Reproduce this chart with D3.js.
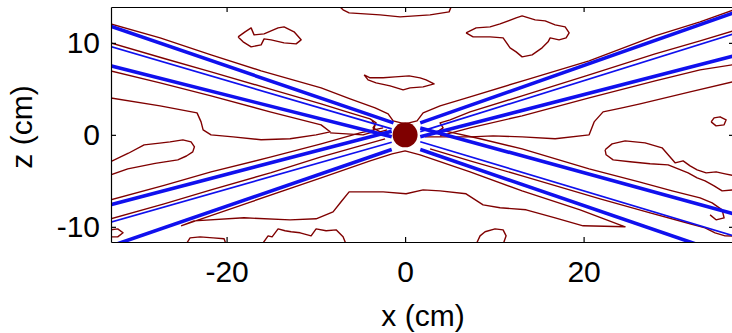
<!DOCTYPE html>
<html><head><meta charset="utf-8">
<script src="https://cdn.jsdelivr.net/npm/d3@7"></script>
<style>
body{margin:0;background:#fff}
svg{display:block}
text{font-family:"Liberation Sans",Arial,sans-serif}
</style>
</head><body>
<svg id="chart" width="732" height="333"></svg>
<script>
// ---- axis ticks ----
const xTicks = [-20, 0, 20];
const zTicks = [-10, 0, 10];
const xLabel = "x (cm)";
const zLabel = "z (cm)";

// ---- blue beam lines: [[x1,z1],[x2,z2]] in cm ----
const thickBeams = [
  [[-33, 11.8], [-1.3, 1.3]],
  [[-33, 7.5], [-1.5, -0.2]],
  [[-33, -7.6], [-1.5, 0.4]],
  [[-33, -12.1], [-1.5, -1.6]],
  [[1.7, 1.3], [36.9, 13.3]],
  [[1.7, -0.2], [36.9, 8.6]],
  [[1.7, 0.75], [36.9, -8.6]],
  [[1.7, -1.6], [36.9, -13.3]]
];
const thinBeams = [
  [[-33, 9.6], [-1.5, 0.65]],
  [[-33, -9.5], [-1.5, -0.8]],
  [[1.7, 0.35], [36.9, 11.0]],
  [[1.7, -0.75], [36.9, -11.0]]
];

// ---- source ----
const sourceX = 0, sourceZ = 0, sourceR = 1.4;

// ---- contour lines (cm) ----
const contourUpperV = [[-33,12.07],[-27.45,10.54],[-21.74,8.70],[-16.13,6.96],[-9.41,5.11],[-6.16,3.91],[-3.36,2.93],[-1.9,2.28],[-1.34,1.52],[0,1.2],[1.34,1.52],[2.02,2.39],[3.92,3.15],[7.28,4.13],[13.56,5.98],[20.62,8.04],[28.01,10.76],[33.05,12.28],[36.9,13.62]];
const contourUpperLeftThin = [[-33,10.0],[-27,8.3],[-21.74,6.85],[-15,4.95],[-9.41,3.37],[-6.16,2.39],[-3.92,1.74],[-3.25,1.3],[-3.59,0.76],[-2.8,0.33],[-2.02,0.54]];
const contourLeftWedge = [[-33,6.96],[-27.45,5.65],[-21.74,4.24],[-15.13,2.5],[-9.41,1.09],[-8.4,0.33],[-9.97,0],[-12.89,-0.43],[-16.13,-0.54],[-19.27,-0.22],[-21.74,0],[-22.63,0.54],[-22.86,1.41],[-23.31,2.39],[-27.45,3.15],[-33,4.02]];
const contourLeftAxis = [[-8.4,0.22],[-4.71,0],[-3.59,0.33],[-3.36,1.09],[-3.7,1.52]];
const contourLowerLeftInner = [[-33,-7.07],[-27,-5.5],[-21.74,-4.02],[-15,-2.4],[-9.41,-0.98],[-5.04,0.22],[-2.46,0.76]];
const islandLeft = [[-33,-2.93],[-31,-2.0],[-29.24,-1.09],[-27.5,-0.9],[-26.33,-0.76],[-24.9,-0.55],[-23.98,-0.76],[-23.6,-1.3],[-23.79,-1.85],[-24.5,-2.3],[-25.47,-2.72],[-28,-3.1],[-31.07,-3.7],[-33,-4.35]];
const contourLowerLeftThin = [[-33,-9.13],[-27,-7.5],[-21.74,-5.98],[-15,-4.1],[-9.41,-2.39],[-5.04,-1.2],[-2.24,-0.43]];
const contourLowerLoop = [[-25.1,-9.89],[-17.25,-7.28],[-9.41,-4.67],[-3.92,-2.83],[-1.46,-2.07],[0,-1.74],[1.68,-2.17],[7.28,-4.02],[13.11,-6.09],[19.61,-8.15],[24.65,-10.0],[19.94,-9.89],[16.81,-9.02],[13.56,-8.15],[10.64,-7.93],[8.74,-7.61],[6.83,-6.41],[3.92,-6.09],[2.02,-5.98],[0.11,-6.41],[-2.46,-6.2],[-6.27,-6.2],[-7.17,-7.28],[-8.07,-8.37],[-9.97,-9.13],[-12.89,-9.24],[-18.04,-9.02],[-23.64,-9.35],[-25.1,-9.89]];
const blobBottom1 = [[-33,-10.33],[-32.2,-10.22],[-31.6,-10.65],[-32.2,-11.09],[-33,-11.09]];
const blobBottom2 = [[-24.54,-11.9],[-24.09,-11.2],[-22.97,-11.09],[-21.51,-11.2],[-20.28,-11.3],[-20.06,-11.9]];
const blobBottom3 = [[-16.02,-11.9],[-15.35,-10.98],[-14.9,-11.09],[-14.23,-10.22],[-13.45,-10.43],[-12.77,-10.54],[-11.76,-10.65],[-10.53,-10.98],[-9.97,-10.22],[-8.85,-10.43],[-7.73,-10.33],[-6.95,-11.09],[-6.61,-11.9]];
const blobBottom4 = [[7.96,-11.9],[8.4,-10.98],[8.96,-10.54],[10.08,-10.22],[10.98,-10.33],[11.32,-10.98],[10.98,-11.9]];
const contourLowerRightInner = [[3.92,0.54],[8.4,-0.43],[13.11,-1.52],[20.62,-3.7],[26.22,-5.11],[29.92,-6.09],[33.05,-6.85],[34.4,-7.39],[35.52,-8.15],[35.74,-9.02],[34.84,-9.24],[34.17,-8.7]];
const contourLowerRightThin = [[2.8,-1.52],[7.28,-2.83],[13.11,-4.46],[21.85,-6.96],[27.45,-8.48],[31.93,-9.67],[33.61,-10.11],[34.73,-10.65],[35.85,-10.98],[36.9,-11.0]];
const islandRight = [[22.41,-1.63],[23.19,-0.98],[24.65,-0.65],[26.89,-0.87],[28.79,-1.41],[29.47,-2.17],[30.25,-3.04],[31.15,-2.83],[31.93,-3.37],[32.72,-3.8],[33.73,-4.13],[34.84,-4.02],[35.85,-4.24],[36.9,-4.46],[36.9,-5.98],[35.52,-6.09],[34.62,-5.54],[33.61,-5.0],[32.72,-4.67],[31.71,-4.13],[30.59,-3.7],[29.47,-3.26],[27.45,-3.15],[25.21,-2.93],[23.31,-2.72],[22.52,-2.17],[22.41,-1.63]];
const contourRightAxis = [[2.24,-0.22],[3.92,-0.22],[7.28,-0.22],[9.86,-0.11],[13.11,-0.22],[16.81,-0.43],[20.62,0],[21.18,1.41],[22.18,2.5],[24.31,2.93],[26.33,3.37],[31.93,4.67],[36.9,5.8]];
const contourUpperRightInner = [[3.92,-0.11],[7.28,0.76],[13.11,2.07],[20.62,4.02],[28.01,5.87],[33.05,7.07],[36.9,7.65]];
const contourUpperRightThin = [[3.59,0.33],[4.26,0.76],[3.92,1.3],[5.04,1.63],[7.28,2.5],[13.11,4.24],[20.62,6.52],[28.01,8.8],[33.05,10.22],[36.9,11.35]];
const islandTopLeft = [[-18.71,10.65],[-17.93,11.2],[-17.25,11.63],[-16.92,10.87],[-15.8,10.98],[-14.23,11.63],[-13.56,11.74],[-12.44,11.2],[-11.65,10.33],[-12.21,9.89],[-13.56,10.0],[-15.01,10.33],[-15.8,10.43],[-16.13,9.78],[-17.25,9.57],[-18.15,10.11],[-18.71,10.65]];
const islandTopEdge = [[-7.4,14.2],[-7.28,13.91],[-6.95,13.59],[-6.27,13.26],[-2.8,13.04],[-0.56,12.83],[2.8,13.04],[4.93,13.37],[5.15,13.91],[5.2,14.2]];
const islandTopRight = [[6.83,11.09],[7.96,11.63],[9.52,11.74],[10.64,12.07],[12.44,12.72],[13.11,12.93],[14.57,12.5],[15.69,12.39],[16.81,11.96],[17.93,11.74],[18.38,11.09],[18.04,10.54],[17.25,10.33],[16.25,10.54],[16.02,10.11],[15.35,9.46],[14.23,8.7],[13.11,8.48],[12.44,9.02],[11.76,9.46],[10.98,10.54],[9.52,10.65],[7.62,10.65],[6.83,11.09]];
const islandMid = [[-4.59,6.52],[-3.92,6.2],[-2.46,6.2],[-1.12,6.30],[0.45,6.41],[1.68,6.2],[2.35,5.98],[3.25,5.54],[2.02,5.22],[0.56,5.11],[-0.22,4.89],[-1.68,5.33],[-3.25,5.65],[-4.15,5.98],[-4.59,6.52]];
const islandSmallRight = [[34.29,1.41],[34.62,1.85],[35.29,1.96],[35.97,1.63],[35.74,1.09],[34.84,0.98],[34.29,1.41]];

const contours = [contourUpperV, contourUpperLeftThin, contourLeftWedge, contourLeftAxis,
  contourLowerLeftInner, islandLeft, contourLowerLeftThin, contourLowerLoop,
  blobBottom1, blobBottom2, blobBottom3, blobBottom4,
  contourLowerRightInner, contourLowerRightThin, islandRight, contourRightAxis,
  contourUpperRightInner, contourUpperRightThin, islandTopLeft, islandTopEdge,
  islandTopRight, islandMid, islandSmallRight];

// ---- layout ----
const W = 732, H = 333;
const plot = {left: 111, top: 7, right: 734, bottom: 242};
const x = d3.scaleLinear().domain([-32.95, 36.85]).range([plot.left, plot.right]);
const z = d3.scaleLinear().domain([-11.65, 13.9]).range([plot.bottom, plot.top]);

const svg = d3.select("#chart");
svg.append("rect").attr("width", W).attr("height", H).attr("fill", "#fff");

svg.append("defs").append("clipPath").attr("id", "clip")
  .append("rect").attr("x", plot.left).attr("y", plot.top)
  .attr("width", plot.right - plot.left).attr("height", plot.bottom - plot.top);

const g = svg.append("g").attr("clip-path", "url(#clip)");
const line = d3.line().x(d => x(d[0])).y(d => z(d[1]));

const contourColor = "#7f0000";
g.selectAll("path.contour").data(contours).join("path")
  .attr("class", "contour")
  .attr("d", line)
  .attr("fill", "none")
  .attr("stroke", contourColor)
  .attr("stroke-width", 1.4)
  .attr("stroke-linejoin", "round");

const blue = "#1010ee";
g.selectAll("path.thin").data(thinBeams).join("path")
  .attr("class", "thin").attr("d", line)
  .attr("fill", "none").attr("stroke", blue).attr("stroke-width", 1.7);
g.selectAll("path.thick").data(thickBeams).join("path")
  .attr("class", "thick").attr("d", line)
  .attr("fill", "none").attr("stroke", blue).attr("stroke-width", 3.6);

g.append("circle")
  .attr("cx", x(sourceX)).attr("cy", z(sourceZ))
  .attr("r", x(sourceR) - x(0))
  .attr("fill", "#7f0000");

// ---- axes ----
const fmt = d => String(d);
const axL = svg.append("g").attr("transform", `translate(${plot.left},0)`)
  .call(d3.axisLeft(z).tickValues(zTicks).tickFormat(fmt).tickSize(-5).tickSizeOuter(0).tickPadding(11));
const axB = svg.append("g").attr("transform", `translate(0,${plot.bottom})`)
  .call(d3.axisBottom(x).tickValues(xTicks).tickFormat(fmt).tickSize(-5).tickSizeOuter(0).tickPadding(19));
const axT = svg.append("g").attr("transform", `translate(0,${plot.top})`)
  .call(d3.axisTop(x).tickValues(xTicks).tickFormat("").tickSize(-5).tickSizeOuter(0));
const axR = svg.append("g").attr("transform", `translate(${plot.right},0)`)
  .call(d3.axisRight(z).tickValues(zTicks).tickFormat("").tickSize(-5).tickSizeOuter(0));

[axL, axB, axT, axR].forEach(a => {
  a.attr("font-size", 30).attr("font-family", "Liberation Sans, Arial, sans-serif");
  a.selectAll("path.domain").attr("stroke", "#000").attr("stroke-width", 1.2);
  a.selectAll(".tick line").attr("stroke", "#000").attr("stroke-width", 1.2);
  a.selectAll(".tick text").attr("fill", "#000");
});

svg.append("text").attr("x", 423).attr("y", 326)
  .attr("text-anchor", "middle").attr("font-size", 30).attr("fill", "#000").text(xLabel);
svg.append("text").attr("transform", "translate(32,127) rotate(-90)")
  .attr("text-anchor", "middle").attr("font-size", 30).attr("fill", "#000").text(zLabel);
</script>
</body></html>
